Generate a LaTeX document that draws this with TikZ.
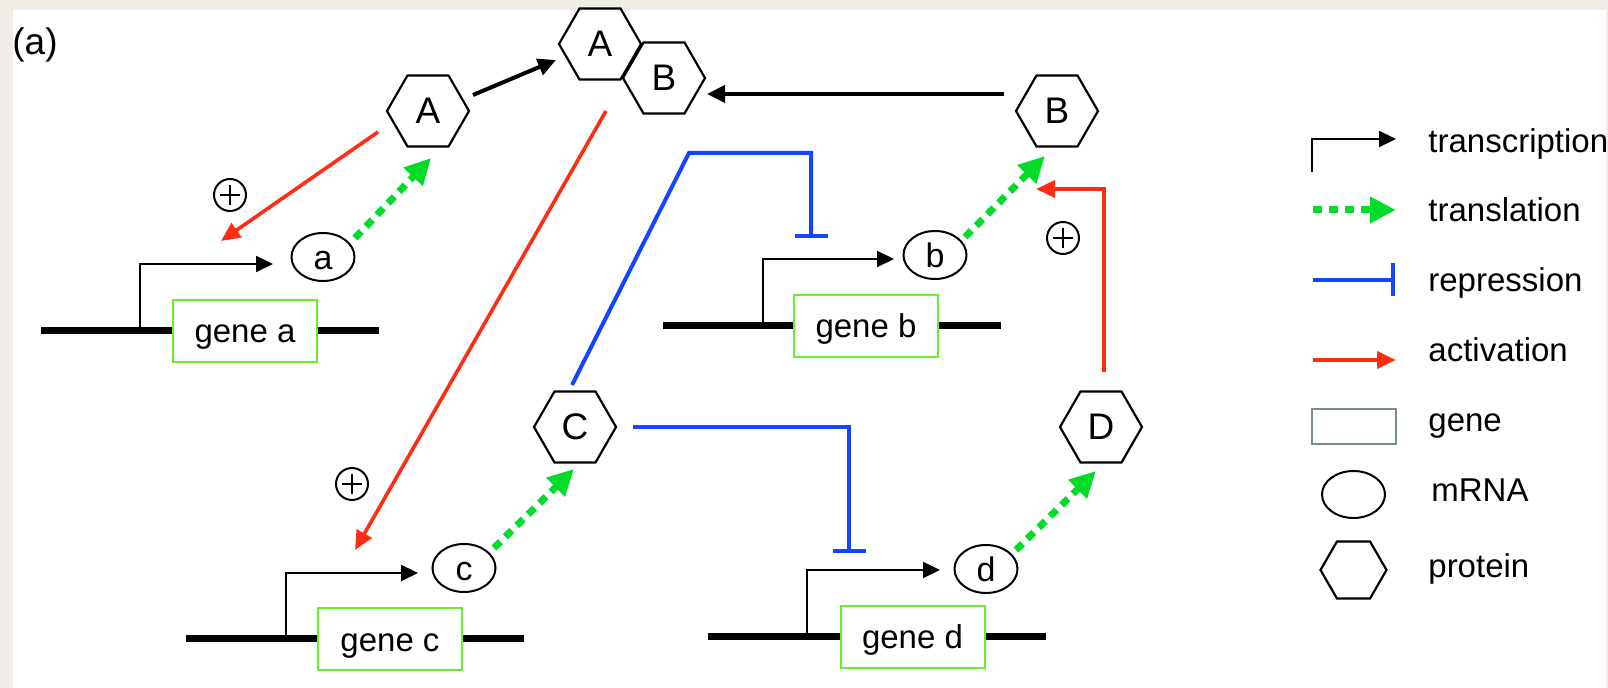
\documentclass[tikz,border=0pt]{standalone}
\usepackage{fontspec}
\setmainfont{Liberation Sans}
\usetikzlibrary{arrows.meta,shapes.geometric}

\definecolor{paper}{RGB}{240,237,230}
\definecolor{actred}{RGB}{255,45,20}
\definecolor{repblue}{RGB}{20,70,255}
\definecolor{tlgreen}{RGB}{0,220,40}
\definecolor{geneedge}{RGB}{105,238,45}
\definecolor{keyedge}{RGB}{120,140,140}

\newcommand\lblfont{\fontsize{16.5pt}{19pt}\selectfont}
\newcommand\hexfont{\fontsize{18.5pt}{21pt}\selectfont}
\newcommand\rnafont{\fontsize{17pt}{20pt}\selectfont}

\begin{document}
\begin{tikzpicture}[x=0.5pt,y=-0.5pt,
  protein/.style={draw, line width=1.1pt, regular polygon, regular polygon sides=6,
    minimum size=41pt, inner sep=0pt, font=\hexfont},
  mrna/.style={draw, ellipse, line width=1pt, minimum width=31.5pt, minimum height=24pt,
    inner sep=0pt, text height=12.2pt, text depth=0pt, font=\rnafont},
  genebox/.style={draw=geneedge, line width=1pt, fill=white, minimum width=72pt,
    minimum height=31pt, inner sep=0pt, text height=12pt, text depth=0pt, font=\lblfont},
  dna/.style={line width=3.5pt},
  txn/.style={line width=1.1pt, -{Triangle[length=8.5pt,width=8pt]}},
  tl/.style={draw=tlgreen, line width=3.5pt, dash pattern=on 4.5pt off 3.5pt,
    -{Triangle[length=13pt,width=12.5pt]}},
  act/.style={draw=actred, line width=1.8pt, -{Triangle[length=9.5pt,width=8.5pt]}},
  rep/.style={draw=repblue, line width=2pt, -{Bar[width=16.5pt]}},
  bind/.style={line width=2pt, -{Triangle[length=9pt,width=8.5pt]}},
  plus/.style={draw, circle, line width=1pt, minimum size=16pt, inner sep=0pt,
    path picture={\draw[line width=0.7pt]
      ([xshift=-5pt]path picture bounding box.center) -- ([xshift=5pt]path picture bounding box.center)
      ([yshift=-5pt]path picture bounding box.center) -- ([yshift=5pt]path picture bounding box.center);}},
  keytext/.style={anchor=base west, inner sep=0pt, font=\lblfont}
]
% page and panel
\fill[paper] (0,0) rectangle (1608,688);
\useasboundingbox (0,0) rectangle (1608,688);
\fill[white] (13,10) rectangle (1606,688);

\node[anchor=base west, inner sep=0pt, font=\hexfont] (tag) at (12,55) {(a)};

% genes on their DNA strands
\draw[dna] (41,331) -- (379,331);
\draw[dna] (663,326) -- (1001,326);
\draw[dna] (186,639) -- (524,639);
\draw[dna] (708,637) -- (1046,637);
\node[genebox] (ga) at (245,331) {gene a};
\node[genebox] (gb) at (866,326) {gene b};
\node[genebox] (gc) at (390,639.5) {gene c};
\node[genebox] (gd) at (912.5,637) {gene d};

% mRNAs
\node[mrna] (ma) at (323,257) {a};
\node[mrna] (mb) at (935,255) {b};
\node[mrna] (mc) at (464,568) {c};
\node[mrna] (md) at (986,569) {d};

% proteins and the A:B complex
\node[protein] (A) at (428,111) {A};
\node[protein] (B) at (1057,111) {B};
\node[protein] (C) at (575,427) {C};
\node[protein] (D) at (1101,427) {D};
\node[protein] (cA) at (600,44) {A};
\node[protein] (cB) at (664,78) {B};

% promoter sites and transcript ends
\coordinate (pa) at (140,331);
\coordinate (pb) at (763,326);
\coordinate (pc) at (286,639);
\coordinate (pd) at (807,637);
\coordinate (ta) at (273,264);
\coordinate (tb) at (894,259);
\coordinate (tc) at (418,573);
\coordinate (td) at (940,570);

% transcription
\draw[txn] (pa) |- (ta);
\draw[txn] (pb) |- (tb);
\draw[txn] (pc) |- (tc);
\draw[txn] (pd) |- (td);

% translation
\draw[tl] ([shift={(32,-19)}]ma.center) -- ([shift={(3,47)}]A.center);
\draw[tl] ([shift={(30,-18)}]mb.center) -- ([shift={(-12,45)}]B.center);
\draw[tl] ([shift={(30,-20)}]mc.center) -- ([shift={(-1,42)}]C.center);
\draw[tl] ([shift={(30,-19)}]md.center) -- ([shift={(-5,44)}]D.center);

% complex formation
\draw[bind] ([shift={(45,-16)}]A.center) -- ([shift={(-44,16)}]cA.center);
\draw[bind] ([shift={(-53,-17)}]B.center) -- ([shift={(43,16)}]cB.center);

% activation
\coordinate (xa) at (221,241);
\coordinate (xc) at (355,550);
\draw[act] ([shift={(-50,21)}]A.center) -- (xa);
\draw[act] ([shift={(-58,33)}]cB.center) -- (xc);
\draw[act] ([shift={(3,-55)}]D.center) |- ([shift={(-21,78)}]B.center);

% repression
\coordinate (rb) at (811,238);
\coordinate (rd) at (849,553);
\draw[rep] ([shift={(-3,-42)}]C.center) -- (689,153) -| (rb);
\draw[rep] ([shift={(58,0)}]C.center) -| (rd);

% signs
\node[plus] (s1) at (230,195) {};
\node[plus] (s2) at (1063,238) {};
\node[plus] (s3) at (352,484) {};

% key
\coordinate (k1a) at (1312,172);
\coordinate (k1b) at (1396,139);
\draw[txn] (k1a) |- (k1b);
\node[keytext] (kt1) at (1428,153) {transcription};
\coordinate (k2a) at (1313,210);
\coordinate (k2b) at (1396,210);
\draw[tl] (k2a) -- (k2b);
\node[keytext] (kt2) at (1428,222) {translation};
\coordinate (k3a) at (1313,280);
\coordinate (k3b) at (1395,280);
\draw[rep] (k3a) -- (k3b);
\node[keytext] (kt3) at (1428,292) {repression};
\coordinate (k4a) at (1313,360);
\coordinate (k4b) at (1396,360);
\draw[act] (k4a) -- (k4b);
\node[keytext] (kt4) at (1428,362) {activation};
\node[draw=keyedge, line width=1.1pt, minimum width=42pt, minimum height=17.5pt, inner sep=0pt] (kg) at (1354,426.5) {};
\node[keytext] (kt5) at (1428,432) {gene};
\node[draw, ellipse, line width=1pt, minimum width=31.5pt, minimum height=23.5pt, inner sep=0pt] (km) at (1353.5,494.5) {};
\node[keytext] (kt6) at (1431,502) {mRNA};
\node[draw, line width=1.1pt, regular polygon, regular polygon sides=6, minimum size=33pt, inner sep=0pt] (kp) at (1353.5,570) {};
\node[keytext] (kt7) at (1428,578) {protein};
\end{tikzpicture}
\end{document}
